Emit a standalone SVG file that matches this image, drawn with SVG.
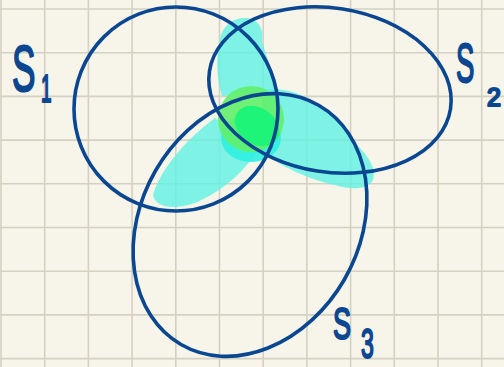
<svg xmlns="http://www.w3.org/2000/svg" width="504" height="367" viewBox="0 0 504 367">
<style>
.grid{stroke:#d4d1c2;stroke-width:1.6;fill:none}
.set{fill:none;stroke:#0b4791;stroke-width:3.6}
.blob{fill:#5ff3e3;fill-opacity:0.8}
.lbl{font-family:"Liberation Sans","DejaVu Sans",sans-serif;fill:#0b4791;stroke:#0b4791;stroke-width:2.2;stroke-linejoin:round}
</style>
<rect width="504" height="367" fill="#f7f5ea"/>
<path class="grid" d="M1,0V367M44.7,0V367M88.4,0V367M132.1,0V367M175.8,0V367M219.5,0V367M263.2,0V367M306.9,0V367M350.6,0V367M394.3,0V367M438,0V367M481.7,0V367M0,9H504M0,52.7H504M0,96.4H504M0,140.1H504M0,183.8H504M0,227.5H504M0,271.2H504M0,314.9H504M0,358.6H504"/>
<g id="shading">
<path class="blob" d="M220,40 C222,25 234,18 245,18 C258,18 264,28 262,42 C266,55 273,72 275,92 L222,96 C216,76 216,56 220,40 Z"/>
<path class="blob" d="M262,90 C292,84 330,104 352,140 C362,150 378,165 373,180 C368,190 350,190 335,185 C310,180 280,166 262,152 Z"/>
<path class="blob" d="M153,195 C160,170 185,140 215,118 L258,150 C245,170 225,190 195,203 C175,210 155,208 153,195 Z"/>
<ellipse cx="251" cy="138" rx="30" ry="24" fill="#2ff0e0" fill-opacity="0.9"/>
<circle cx="251" cy="119" r="33" fill="#62f06a" fill-opacity="0.9"/>
<ellipse cx="257" cy="126" rx="24" ry="18" transform="rotate(35 257 126)" fill="#1ef578"/>
</g>
<g id="S1"><circle class="set" cx="176" cy="109" r="102"/><text class="lbl" font-size="64" transform="translate(12,91) scale(0.55,1)">S</text><text class="lbl" font-size="38" transform="translate(41,102) scale(0.5,1)">1</text></g>
<g id="S2"><ellipse class="set" cx="330" cy="90" rx="122" ry="82" transform="rotate(9 330 90)"/><text class="lbl" font-size="55" transform="translate(456,82) scale(0.5,1)">S</text><text class="lbl" font-size="25" transform="translate(487,106) scale(1,1)">2</text></g>
<g id="S3"><ellipse class="set" cx="250" cy="225" rx="138" ry="109" transform="rotate(-60 250 225)"/><text class="lbl" font-size="45" transform="translate(333,339) scale(0.6,1)">S</text><text class="lbl" font-size="42" transform="translate(361,358) scale(0.55,1)">3</text></g>
</svg>
